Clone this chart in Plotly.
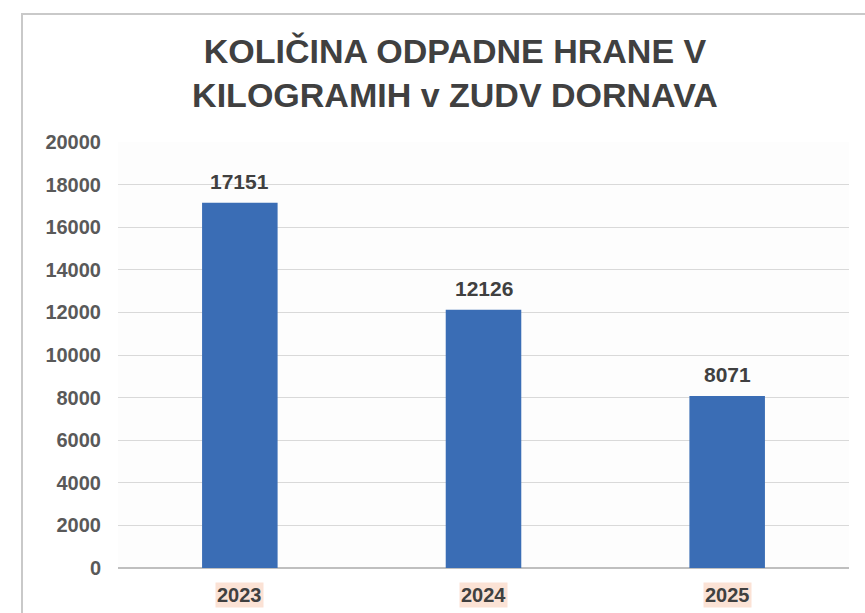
import plotly.graph_objects as go

years = ['2023', '2024', '2025']
waste_kg = [17151, 12126, 8071]
y_ticks = list(range(0, 20001, 2000))

TITLE = 'KOLIČINA ODPADNE HRANE V<br>KILOGRAMIH v ZUDV DORNAVA'
FONT = 'Liberation Sans, Arial, sans-serif'

fig = go.Figure(go.Bar(
    x=years,
    y=waste_kg,
    marker_color='#3a6db5',
    marker_line_width=0,
    hoverinfo='x+y',
))

# annotations on a category axis take the category index, not the label
for i, (yr, v) in enumerate(zip(years, waste_kg)):
    # value label just above the bar
    fig.add_annotation(
        x=i, y=v, text=f'<b>{v}</b>', showarrow=False,
        yanchor='bottom', yshift=8,
        font=dict(family=FONT, size=21, color='#404040'),
    )
    # category label with the peach highlight
    fig.add_annotation(
        x=i, y=0, text=f'<b>{yr}</b>', showarrow=False,
        yanchor='top', yshift=-14,
        font=dict(family=FONT, size=20, color='#404040'),
        bgcolor='#fbe2d5', borderpad=1,
    )

# chart frame (left/top edges visible)
fig.add_shape(
    type='rect', xref='paper', yref='paper',
    x0=-96 / 731, x1=1.05, y0=-0.2, y1=1.0 + 128 / 426,
    line=dict(color='#c9c9c9', width=2), fillcolor='rgba(0,0,0,0)',
    layer='below',
)

fig.update_layout(
    width=865,
    height=613,
    title=dict(
        text=TITLE, x=0.526, xanchor='center', y=0.897, yanchor='top',
        font=dict(family=FONT, size=34, color='#404040', weight='bold'),
    ),
    bargap=0.69,
    plot_bgcolor='#fdfdfd',
    paper_bgcolor='#ffffff',
    showlegend=False,
    margin=dict(l=118, r=16, t=142, b=45),
    xaxis=dict(
        type='category', showticklabels=False, showgrid=False,
        zeroline=False, showline=False, fixedrange=True,
    ),
    yaxis=dict(
        range=[0, 20000], tickvals=y_ticks, ticktext=[str(t) for t in y_ticks],
        showgrid=True, gridcolor='#d9d9d9', gridwidth=1,
        zeroline=True, zerolinecolor='#bfbfbf', zerolinewidth=1.5,
        showline=False, ticks='', ticklabelstandoff=16,
        tickfont=dict(family=FONT, size=20, color='#595959', weight='bold'),
    ),
)

fig.write_html(
    'out.html',
    config={'displayModeBar': False},
    post_script="document.body.style.margin='0';",
)
